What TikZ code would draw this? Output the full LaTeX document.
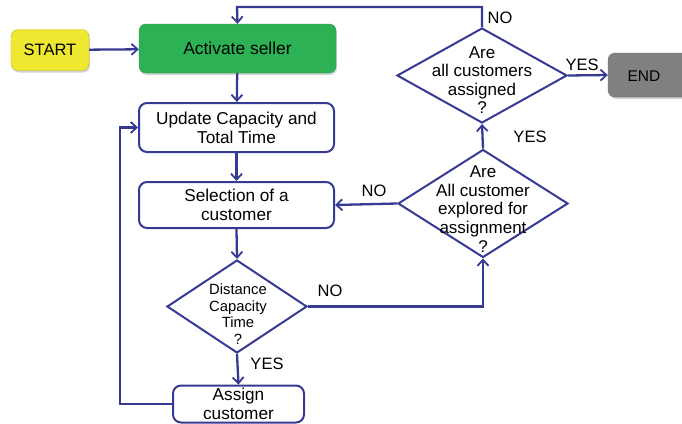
\documentclass[tikz,border=0pt]{standalone}
\usepackage{fontspec}
\setmainfont{Liberation Sans}
\usetikzlibrary{arrows.meta,shapes.geometric,shadows}
\definecolor{lineblue}{RGB}{55,58,148}
\definecolor{startyellow}{RGB}{238,232,48}
\definecolor{sellergreen}{RGB}{44,178,84}
\definecolor{endgrey}{RGB}{128,128,128}
\tikzset{
  flow/.style={draw=lineblue, line width=2.3pt, -{Straight Barb[length=6pt,width=11pt,line width=1.8pt]}},
  proc/.style={draw=lineblue, line width=2pt, fill=white, rounded corners=8pt, inner sep=0pt, align=center, font=\fontsize{17.2}{18.8}\selectfont},
  term/.style={rounded corners=7pt, inner sep=0pt, align=center, font=\fontsize{16.5}{18}\selectfont, drop shadow={shadow xshift=1pt, shadow yshift=-2pt, opacity=0.35}},
  dia/.style={diamond, draw=lineblue, line width=2pt, inner sep=0pt},
  diatext/.style={align=center, inner sep=0pt},
  lab/.style={font=\fontsize{16.5}{18}\selectfont, inner sep=0pt}
}
\begin{document}
\begin{tikzpicture}[x=1pt,y=-1pt]
\useasboundingbox (0,0) rectangle (682,423);
% terminals
\node[term, fill=startyellow, draw=startyellow!80!black, minimum width=78pt, minimum height=41pt] (start) at (50,50) {START};
\node[term, fill=sellergreen, draw=sellergreen!85!black, minimum width=197pt, minimum height=49pt, font=\fontsize{17.4}{19}\selectfont] (seller) at (237.5,48.5) {Activate seller};
\node[term, fill=endgrey, draw=endgrey!85!black, minimum width=92pt, minimum height=44pt] (end) at (654,75) {};
\node[lab, font=\fontsize{15.5}{17}\selectfont] (endtxt) at (644,76) {END};
% processes
\node[proc, minimum width=195pt, minimum height=49pt] (update) at (236.5,127.5) {Update Capacity and\\Total Time};
\node[proc, minimum width=195pt, minimum height=46pt] (select) at (236.5,205) {Selection of a\\customer};
\node[proc, minimum width=131pt, minimum height=37pt] (assign) at (238.5,404) {Assign\\customer};
% decisions
\node[dia, minimum width=140pt, minimum height=93pt] (d3) at (237,306.5) {};
\node[diatext, font=\fontsize{14.8}{16.5}\selectfont] (d3t) at (238,314) {Distance\\Capacity\\Time\\?};
\node[dia, minimum width=170pt, minimum height=108pt] (d2) at (483,203.5) {};
\node[diatext, font=\fontsize{17}{18.8}\selectfont] (d2t) at (483,209) {Are\\All customer\\explored for\\assignment\\?};
\node[dia, minimum width=170pt, minimum height=95pt] (d1) at (482,75.5) {};
\node[diatext, font=\fontsize{17}{18.5}\selectfont] (d1t) at (482,80) {Are\\all customers\\assigned\\?};
% connectors
\coordinate (topL) at (237,7);
\coordinate (topR) at (482,7);
\coordinate (loopB) at (120,404);
\coordinate (loopT) at (120,127.5);
\coordinate (rightB) at (483,306.5);
\draw[flow] (start) -- (seller);
\draw[flow] (seller) -- (update);
\draw[flow] (update) -- (select);
\draw[flow] (select.south) -- (d3.north);
\draw[flow] (d3.south) -- (assign.north);
\draw[flow] (assign.west) -- (loopB) -- (loopT) -- (update.west);
\draw[flow] (d3.east) -- (rightB) -- (d2.south);
\draw[flow] (d2.west) -- (select.east);
\draw[flow] (d2.north) -- (d1.south);
\draw[flow] (d1.east) -- (end.west);
\draw[flow] (d1.north) -- (topR) -- (topL) -- (seller.north);
% labels
\node[lab] (l1) at (500,18) {NO};
\node[lab] (l2) at (582,65) {YES};
\node[lab] (l3) at (530,137) {YES};
\node[lab] (l4) at (374,191) {NO};
\node[lab] (l5) at (330,291) {NO};
\node[lab] (l6) at (267,364) {YES};
\end{tikzpicture}
\end{document}
